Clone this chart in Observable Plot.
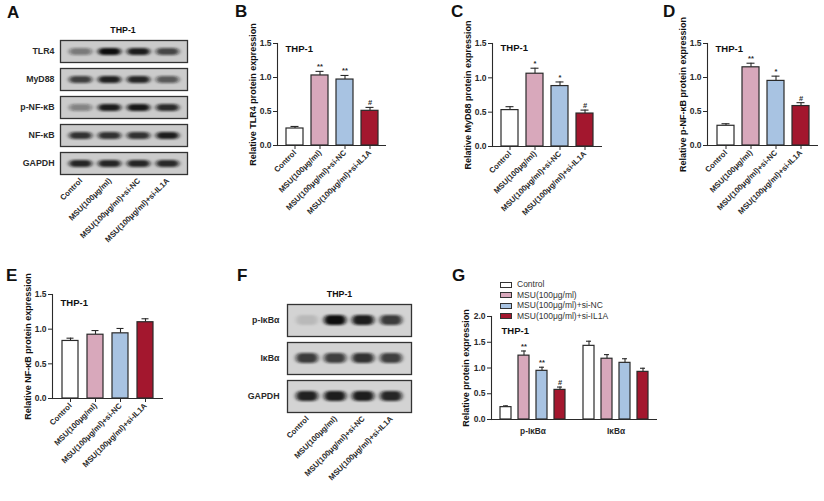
<!DOCTYPE html>
<html>
<head>
<meta charset="utf-8">
<script src="https://cdn.jsdelivr.net/npm/d3@7"></script>
<script src="https://cdn.jsdelivr.net/npm/@observablehq/plot@0.6"></script>
<style>
  html, body { margin: 0; padding: 0; background: #fff; }
  #fig { position: relative; width: 824px; height: 501px; overflow: hidden; background: #fff;
         font-family: "Liberation Sans", Arial, sans-serif; color: #222; }
  .panel { position: absolute; }
  .letter { position: absolute; font-size: 17px; font-weight: bold; line-height: 1; color: #111; }
  .legend { position: absolute; font-size: 8.5px; color: #333; }
  .legend .row { position: absolute; left: 0; white-space: nowrap; height: 10px; line-height: 10px; }
  .legend .sw { position: absolute; left: 0; top: 2.5px; width: 10px; height: 4px; border: 1px solid #333; }
  .legend .lb { position: absolute; left: 17px; top: 0; }
</style>
</head>
<body>
<div id="fig"></div>
<script>
// ---------- data ----------
const groups = ["Control", "MSU(100μg/ml)", "MSU(100μg/ml)+si-NC", "MSU(100μg/ml)+si-IL1A"];
const groupColors = ["#ffffff", "#d8a8bb", "#a8c3e2", "#a3172e"];

const tlr4Mean = [0.25, 1.03, 0.97, 0.51];
const tlr4Err  = [0.03, 0.06, 0.06, 0.05];
const tlr4Sig  = ["", "**", "**", "#"];

const myd88Mean = [0.53, 1.06, 0.88, 0.48];
const myd88Err  = [0.05, 0.08, 0.06, 0.05];
const myd88Sig  = ["", "*", "*", "#"];

const pnfkbMean = [0.29, 1.15, 0.95, 0.58];
const pnfkbErr  = [0.03, 0.06, 0.07, 0.05];
const pnfkbSig  = ["", "**", "*", "#"];

const nfkbMean = [0.83, 0.92, 0.94, 1.10];
const nfkbErr  = [0.04, 0.06, 0.07, 0.05];
const nfkbSig  = ["", "", "", ""];

const proteinsG = ["p-IκBα", "IκBα"];
const pikbaMean = [0.24, 1.24, 0.945, 0.575];
const pikbaErr  = [0.025, 0.09, 0.07, 0.055];
const pikbaSig  = ["", "**", "**", "#"];
const ikbaMean  = [1.43, 1.18, 1.10, 0.925];
const ikbaErr   = [0.09, 0.08, 0.08, 0.07];
const ikbaSig   = ["", "", "", ""];

const blotProteinsA = ["TLR4", "MyD88", "p-NF-κB", "NF-κB", "GAPDH"];
const tlr4Bands  = [0.45, 1.0, 0.92, 0.72];
const myd88Bands = [0.75, 0.9, 0.88, 0.62];
const pnfkbBands = [0.4, 0.92, 0.95, 0.85];
const nfkbBands  = [0.82, 0.82, 0.82, 0.92];
const gapdhBandsA = [0.88, 0.88, 0.88, 0.86];

const blotProteinsF = ["p-IκBα", "IκBα", "GAPDH"];
const pikbaBands = [0.12, 1.0, 0.92, 0.78];
const ikbaBands  = [0.78, 0.76, 0.82, 0.76];
const gapdhBandsF = [0.9, 0.92, 0.92, 0.88];

// ---------- helpers ----------
const FONT = "'Liberation Sans', Arial, sans-serif";
const INK = "#2a2a2a";
const fig = document.getElementById("fig");

function place(node, left, top, w) {
  const d = document.createElement("div");
  d.className = "panel";
  d.style.left = left + "px";
  d.style.top = top + "px";
  d.style.width = w + "px";
  d.appendChild(node);
  fig.appendChild(d);
}
function letter(t, left, top) {
  const d = document.createElement("div");
  d.className = "letter";
  d.textContent = t;
  d.style.left = left + "px";
  d.style.top = top + "px";
  fig.appendChild(d);
}
function addBlur(node, id, sx, sy) {
  const svg = node.tagName.toLowerCase() === "svg" ? node : node.querySelector("svg");
  const ns = "http://www.w3.org/2000/svg";
  const defs = document.createElementNS(ns, "defs");
  const f = document.createElementNS(ns, "filter");
  f.setAttribute("id", id);
  f.setAttribute("x", "-50%"); f.setAttribute("y", "-100%");
  f.setAttribute("width", "200%"); f.setAttribute("height", "300%");
  const b = document.createElementNS(ns, "feGaussianBlur");
  b.setAttribute("stdDeviation", sx + " " + sy);
  f.appendChild(b); defs.appendChild(f); svg.insertBefore(defs, svg.firstChild);
  svg.querySelectorAll('g[aria-label="cell"]').forEach(g => g.setAttribute("filter", `url(#${id})`));
}

function barPanel(cfg) {
  const data = groups.map((g, i) => ({group: g, mean: cfg.mean[i], err: cfg.err[i], sig: cfg.sig[i]}));
  return Plot.plot({
    width: cfg.width, height: cfg.height,
    marginTop: cfg.mt, marginRight: cfg.mr, marginBottom: cfg.mb, marginLeft: cfg.ml,
    style: {fontFamily: FONT, fontWeight: "bold", color: INK, background: "transparent", overflow: "visible"},
    x: {domain: groups, padding: cfg.pad},
    y: {domain: [0, 1.5]},
    color: {domain: groups, range: groupColors},
    marks: [
      Plot.ruleX(data, {x: "group", y1: "mean", y2: d => d.mean + d.err, stroke: INK, strokeWidth: 1.1}),
      Plot.tickY(data, {x: "group", y: d => d.mean + d.err, stroke: INK, strokeWidth: 1.1, insetLeft: 4.5, insetRight: 4.5}),
      Plot.barY(data, {x: "group", y: "mean", fill: "group", stroke: INK, strokeWidth: 1.2}),
      Plot.text(data, {x: "group", y: d => d.mean + d.err, text: "sig", lineAnchor: "bottom", dy: -2, fontSize: 7.5, fill: INK}),
      Plot.ruleY([0], {stroke: INK, strokeWidth: 1.1}),
      Plot.frame({anchor: "left", stroke: INK, strokeWidth: 1.1}),
      Plot.axisY({ticks: [0, 0.5, 1, 1.5], tickFormat: ".1f", tickSize: 4, tickPadding: 2, fontSize: 8.5, label: null}),
      Plot.axisX({tickRotate: -45, tickSize: 4, tickPadding: 2, fontSize: 7.8, label: null}),
      Plot.text([cfg.yLabel], {frameAnchor: "left", rotate: -90, dx: -24, text: d => d, textAnchor: "middle", fontSize: 9, fill: "#111"}),
      Plot.text(["THP-1"], {frameAnchor: "top-left", dx: 8, dy: cfg.thpDy, text: d => d, textAnchor: "start", lineAnchor: "middle", fontSize: 9.5, fill: "#111"})
    ]
  });
}

function blotPanel(cfg) {
  const data = [];
  cfg.proteins.forEach((p, j) => cfg.bands[j].forEach((v, i) => data.push({protein: p, lane: groups[i], intensity: v})));
  const node = Plot.plot({
    width: cfg.width, height: cfg.height,
    marginTop: cfg.mt, marginRight: cfg.mr, marginBottom: cfg.mb, marginLeft: cfg.ml,
    style: {fontFamily: FONT, fontWeight: "bold", color: INK, background: "transparent", overflow: "visible"},
    fy: {domain: cfg.proteins, paddingInner: cfg.fyPad, paddingOuter: 0},
    x: {domain: groups, paddingInner: 0.22, paddingOuter: 0.28},
    y: {domain: ["band"], padding: cfg.bandPad, axis: null},
    opacity: {type: "linear", domain: [0, 1], range: [0, 1]},
    marks: [
      Plot.frame({fill: cfg.bg, stroke: "#333", strokeWidth: 1.3}),
      Plot.cell(data, {fy: "protein", x: "lane", y: () => "band", fill: "#111", fillOpacity: "intensity", rx: 5}),
      Plot.axisFy({anchor: "left", tickSize: 0, tickPadding: cfg.labPad, fontSize: 8.8, label: null}),
      Plot.axisX({anchor: "bottom", tickRotate: -45, tickSize: 0, tickPadding: 5, fontSize: 7.8, label: null}),
      Plot.text([{protein: cfg.proteins[0], t: "THP-1"}], {fy: "protein", frameAnchor: "top", dx: cfg.thpDx, dy: -10, text: "t", lineAnchor: "middle", fontSize: 8.8, fill: "#111"})
    ]
  });
  addBlur(node, cfg.id, 2.2, 1.3);
  return node;
}

// ---------- panel A ----------
place(blotPanel({
  id: "blurA", width: 200, height: 250, mt: 39, mr: 13, mb: 75, ml: 60,
  proteins: blotProteinsA, bands: [tlr4Bands, myd88Bands, pnfkbBands, nfkbBands, gapdhBandsA],
  fyPad: 0.2, bandPad: 0.5, bg: "#cbcbcb", labPad: 6, thpDx: -1
}), 0, 0, 200);

// ---------- panels B, C, D ----------
place(barPanel({width: 200, height: 240, mt: 43, mr: 14, mb: 95, ml: 77, pad: 0.32,
  mean: tlr4Mean, err: tlr4Err, sig: tlr4Sig, yLabel: "Relative TLR4 protein expression", thpDy: 5}), 200, 0, 200);
place(barPanel({width: 210, height: 240, mt: 43, mr: 18, mb: 94, ml: 82, pad: 0.32,
  mean: myd88Mean, err: myd88Err, sig: myd88Sig, yLabel: "Relative MyD88 protein expression", thpDy: 4}), 410, 0, 210);
place(barPanel({width: 214, height: 240, mt: 43, mr: 6, mb: 95, ml: 97, pad: 0.32,
  mean: pnfkbMean, err: pnfkbErr, sig: pnfkbSig, yLabel: "Relative p-NF-κB protein expression", thpDy: 5}), 610, 0, 214);

// ---------- panel E ----------
place(barPanel({width: 210, height: 250, mt: 44, mr: 47, mb: 102, ml: 52, pad: 0.35,
  mean: nfkbMean, err: nfkbErr, sig: nfkbSig, yLabel: "Relative NF-κB protein expression", thpDy: 8}), 0, 250, 210);

// ---------- panel F ----------
place(blotPanel({
  id: "blurF", width: 230, height: 250, mt: 53, mr: 29, mb: 87, ml: 77,
  proteins: blotProteinsF, bands: [pikbaBands, ikbaBands, gapdhBandsF],
  fyPad: 0.17, bandPad: 0.52, bg: "#d3d3d3", labPad: 8, thpDx: -10
}), 210, 250, 230);

// ---------- panel G ----------
const gData = [];
proteinsG.forEach((p, j) => {
  const m = j === 0 ? pikbaMean : ikbaMean, e = j === 0 ? pikbaErr : ikbaErr, s = j === 0 ? pikbaSig : ikbaSig;
  groups.forEach((g, i) => gData.push({protein: p, group: g, mean: m[i], err: e[i], sig: s[i]}));
});
place(Plot.plot({
  width: 220, height: 250, marginTop: 66, marginRight: 13, marginBottom: 81, marginLeft: 40,
  style: {fontFamily: FONT, fontWeight: "bold", color: INK, background: "transparent", overflow: "visible"},
  fx: {domain: proteinsG, padding: 0},
  x: {domain: groups, paddingInner: 0.37, paddingOuter: 0.48, axis: null},
  y: {domain: [0, 2]},
  color: {domain: groups, range: groupColors},
  marks: [
    Plot.ruleX(gData, {fx: "protein", x: "group", y1: "mean", y2: d => d.mean + d.err, stroke: INK, strokeWidth: 1.1}),
    Plot.tickY(gData, {fx: "protein", x: "group", y: d => d.mean + d.err, stroke: INK, strokeWidth: 1.1, insetLeft: 3, insetRight: 3}),
    Plot.barY(gData, {fx: "protein", x: "group", y: "mean", fill: "group", stroke: INK, strokeWidth: 1.2}),
    Plot.text(gData, {fx: "protein", x: "group", y: d => d.mean + d.err, text: "sig", lineAnchor: "bottom", dy: -2, fontSize: 7.5, fill: INK}),
    Plot.ruleY([0], {stroke: INK, strokeWidth: 1.1}),
    Plot.frame({anchor: "left", facetAnchor: "left", stroke: INK, strokeWidth: 1.1}),
    Plot.axisY({ticks: [0, 0.5, 1, 1.5, 2], tickFormat: ".1f", tickSize: 4, tickPadding: 2, fontSize: 8.5, label: null}),
    Plot.axisFx({anchor: "bottom", tickSize: 0, tickPadding: 9, fontSize: 8.3, label: null}),
    Plot.text([{protein: proteinsG[0], t: "THP-1"}], {fx: "protein", frameAnchor: "top-left", dx: 10, dy: 14, text: "t", textAnchor: "start", lineAnchor: "middle", fontSize: 9.5, fill: "#111"}),
    Plot.text([{protein: proteinsG[0], t: "Relative protein expression"}], {fx: "protein", frameAnchor: "left", rotate: -90, dx: -25, text: "t", textAnchor: "middle", fontSize: 9, fill: "#111"})
  ]
}), 450, 250, 220);

// legend for G
const leg = document.createElement("div");
leg.className = "legend";
leg.style.left = "500px"; leg.style.top = "279px";
groups.forEach((g, i) => {
  const r = document.createElement("div");
  r.className = "row";
  r.style.top = (i * 10.6) + "px";
  const sw = document.createElement("div");
  sw.className = "sw"; sw.style.background = groupColors[i];
  const lb = document.createElement("div");
  lb.className = "lb"; lb.textContent = g;
  r.appendChild(sw); r.appendChild(lb); leg.appendChild(r);
});
fig.appendChild(leg);

// panel letters
letter("A", 7, 4);
letter("B", 235, 3);
letter("C", 451, 3);
letter("D", 663, 3);
letter("E", 6, 267);
letter("F", 237, 267);
letter("G", 452, 267);
</script>
</body>
</html>
